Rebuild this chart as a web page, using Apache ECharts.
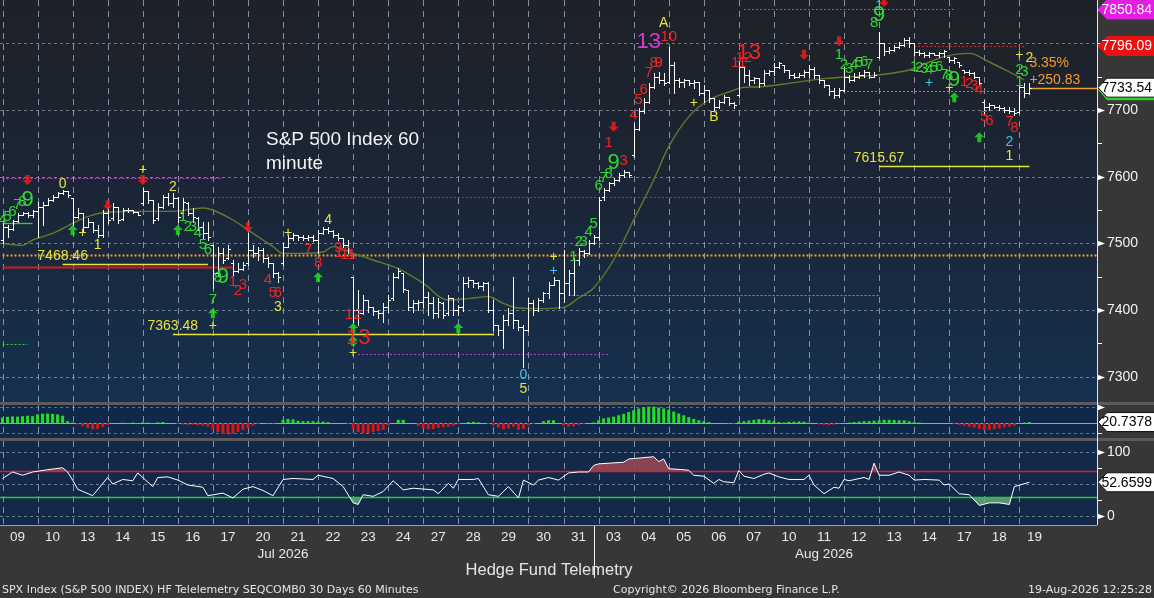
<!DOCTYPE html>
<html><head><meta charset="utf-8">
<script src="https://cdn.jsdelivr.net/npm/echarts@6/dist/echarts.min.js"></script>
<style>html,body{margin:0;padding:0;background:#363636;}#c{width:1154px;height:598px;}</style>
</head><body><div id="c"></div>
<script>
// ---------------- DATA ----------------
const dayLabels = ['09','10','13','14','15','16','17','20','21','22','23','24','27','28','29','30','31','03','04','05','06','07','10','11','12','13','14','17','18','19'];
const monthLabels = [['Jul 2026', 56], ['Aug 2026', 164]];
const BARS_PER_DAY = 7;
const SLOT_COUNT = 219;

// hourly bars [open, high, low, close], one row per session
const priceBarsByDay = [
[[7505,7530,7500,7525],[7525,7527,7510,7522],[7522,7535,7520,7533],[7533,7545,7532,7543],[7543,7547,7542,7545],[7545,7547,7540,7542],[7542,7550,7540,7548]],
[[7548,7562,7510,7555],[7555,7562,7528,7558],[7558,7568,7557,7565],[7565,7572,7564,7570],[7570,7577,7569,7575],[7575,7580,7574,7578],[7578,7578,7570,7572]],
[[7568,7568,7527,7540],[7540,7553,7538,7545],[7545,7545,7517,7525],[7525,7538,7524,7532],[7532,7532,7517,7520],[7520,7527,7510,7513],[7513,7550,7510,7545]],
[[7545,7555,7530,7535],[7538,7560,7535,7555],[7555,7555,7530,7535],[7537,7553,7535,7550],[7550,7553,7547,7550],[7550,7550,7545,7547],[7547,7547,7542,7543]],
[[7560,7583,7558,7578],[7578,7578,7560,7565],[7565,7565,7530,7535],[7538,7560,7535,7555],[7555,7572,7553,7570],[7570,7575,7557,7560],[7560,7575,7555,7568]],
[[7568,7570,7532,7540],[7545,7568,7540,7562],[7560,7562,7542,7545],[7545,7553,7532,7540],[7538,7540,7520,7525],[7525,7532,7508,7515],[7515,7532,7505,7510]],
[[7497,7497,7433,7455],[7455,7495,7453,7485],[7485,7493,7470,7475],[7478,7497,7476,7492],[7470,7475,7452,7458],[7458,7470,7457,7462],[7462,7472,7460,7468]],
[[7470,7515,7468,7490],[7490,7497,7480,7485],[7485,7495,7475,7490],[7490,7493,7472,7478],[7478,7480,7465,7470],[7470,7470,7450,7455],[7455,7457,7442,7450]],
[[7470,7500,7468,7495],[7495,7512,7494,7508],[7508,7515,7505,7512],[7512,7512,7505,7510],[7510,7512,7505,7508],[7508,7512,7505,7510],[7510,7512,7503,7505]],
[[7505,7520,7485,7515],[7515,7525,7514,7522],[7522,7525,7515,7518],[7518,7520,7510,7512],[7512,7515,7505,7508],[7508,7508,7495,7498],[7498,7505,7485,7490]],
[[7450,7450,7382,7400],[7400,7430,7377,7395],[7395,7422,7394,7415],[7415,7415,7397,7405],[7405,7405,7392,7398],[7398,7400,7388,7395],[7395,7410,7382,7405]],
[[7405,7422,7397,7415],[7418,7455,7415,7450],[7450,7463,7448,7458],[7455,7455,7427,7432],[7430,7430,7400,7405],[7405,7415,7397,7410],[7410,7415,7400,7412]],
[[7412,7482,7405,7420],[7420,7427,7392,7410],[7410,7420,7388,7395],[7395,7418,7390,7412],[7410,7412,7388,7392],[7395,7422,7392,7418],[7418,7418,7392,7400]],
[[7400,7407,7392,7405],[7405,7450,7398,7440],[7440,7450,7435,7445],[7445,7445,7435,7440],[7440,7442,7433,7436],[7436,7442,7430,7440],[7440,7442,7397,7400]],
[[7400,7415,7370,7378],[7378,7378,7362,7370],[7370,7392,7343,7385],[7385,7403,7377,7395],[7395,7450,7373,7385],[7385,7385,7370,7375],[7375,7377,7315,7370]],
[[7370,7418,7368,7410],[7410,7415,7392,7400],[7400,7418,7398,7415],[7415,7427,7412,7425],[7425,7442,7418,7438],[7438,7450,7437,7445],[7445,7445,7403,7425]],
[[7425,7490,7412,7440],[7440,7460,7422,7455],[7455,7478,7422,7475],[7475,7493,7467,7488],[7488,7490,7480,7485],[7485,7505,7484,7500],[7500,7512,7499,7510]],
[[7510,7570,7505,7565],[7570,7583,7565,7580],[7580,7592,7578,7590],[7590,7598,7588,7595],[7595,7605,7593,7602],[7602,7610,7600,7607],[7607,7607,7600,7602]],
[[7632,7680,7630,7672],[7672,7703,7670,7698],[7698,7718,7696,7712],[7712,7740,7710,7735],[7735,7755,7733,7750],[7750,7757,7740,7745],[7745,7755,7737,7740]],
[[7742,7795,7740,7768],[7768,7772,7725,7745],[7745,7748,7735,7742],[7742,7747,7735,7745],[7745,7745,7737,7740],[7740,7745,7733,7742],[7742,7742,7722,7725]],
[[7725,7737,7712,7730],[7730,7730,7712,7718],[7718,7718,7700,7705],[7705,7715,7703,7712],[7712,7722,7710,7720],[7720,7720,7708,7710],[7710,7712,7703,7708]],
[[7722,7772,7720,7765],[7765,7765,7742,7752],[7752,7760,7737,7745],[7745,7750,7740,7748],[7748,7748,7735,7740],[7740,7760,7738,7755],[7755,7760,7752,7758]],
[[7758,7770,7752,7765],[7765,7772,7763,7770],[7768,7768,7757,7760],[7760,7760,7748,7752],[7752,7755,7748,7750],[7750,7755,7749,7753],[7753,7760,7750,7757]],
[[7757,7767,7750,7762],[7762,7765,7748,7752],[7752,7752,7740,7745],[7745,7745,7735,7738],[7738,7738,7722,7728],[7728,7733,7718,7722],[7722,7733,7720,7730]],
[[7730,7765,7728,7750],[7750,7752,7742,7745],[7745,7755,7743,7750],[7750,7757,7748,7752],[7752,7760,7750,7757],[7757,7757,7748,7750],[7750,7757,7749,7752]],
[[7780,7817,7778,7800],[7800,7800,7782,7788],[7788,7795,7785,7790],[7790,7797,7788,7795],[7795,7802,7793,7798],[7798,7808,7796,7805],[7805,7810,7795,7800]],
[[7800,7800,7782,7787],[7787,7790,7782,7785],[7785,7787,7780,7783],[7783,7787,7780,7785],[7785,7785,7782,7783],[7783,7787,7780,7786],[7786,7790,7780,7788]],
[[7780,7780,7772,7775],[7775,7780,7770,7778],[7772,7772,7765,7767],[7760,7760,7755,7757],[7757,7760,7752,7755],[7755,7757,7748,7750],[7750,7750,7737,7740]],
[[7712,7715,7695,7705],[7705,7710,7700,7708],[7708,7708,7703,7705],[7705,7707,7700,7703],[7703,7705,7697,7700],[7700,7705,7695,7698],[7698,7703,7692,7695]],
[[7697,7742,7695,7735],[7735,7740,7720,7725],[7725,7740,7724,7733.54]]
];

// moving average (bar index, value)
const movingAvg = [[0,7500],[4,7497],[6,7505],[10,7515],[14,7530],[17,7540],[21,7547],[28,7548],[34,7548],[40,7553],[42,7550],[46,7535],[50,7515],[54,7495],[56,7485],[60,7485],[64,7487],[66,7495],[70,7485],[74,7475],[79,7462],[84,7440],[89,7415],[93,7417],[97,7420],[100,7410],[103,7403],[107,7402],[112,7404],[115,7418],[118,7433],[122,7475],[126,7535],[130,7595],[133,7645],[137,7690],[141,7715],[145,7727],[148,7734],[152,7735],[157,7740],[164,7747],[170,7750],[174,7752],[181,7760],[188,7780],[193,7785],[197,7772],[201,7757],[204,7745]];

// histogram panel, one value per bar
const histByDay = [
[120,135,145,140,150,160,150],[190,205,210,200,190,160,40],[10,-30,-70,-110,-140,-130,-90],[-40,0,0,5,0,10,0],
[15,10,0,15,20,0,0],[-20,-30,-40,-40,-50,-60,-80],[-150,-200,-240,-250,-240,-200,-150],[-120,-60,-20,0,-10,-10,0],
[70,90,80,50,40,40,40],[30,30,20,0,0,0,-20],[-150,-200,-220,-220,-200,-180,-150],[-60,0,70,70,0,0,-60],
[-120,-140,-130,-110,-90,-80,-60],[-30,0,20,25,15,0,-20],[-60,-100,-140,-120,-80,-150,-130],[-60,-20,0,40,60,60,0],
[-60,-80,-70,-40,-20,0,10],[60,100,120,140,170,200,240],[280,320,350,360,360,340,320],[290,250,210,170,130,90,60],
[40,20,0,0,0,-10,-15],[30,40,55,70,85,80,60],[40,20,10,25,30,35,30],[10,0,-30,-40,-45,-35,-10],
[0,10,20,30,40,40,50],[60,70,70,65,60,60,40],[20,10,0,0,0,0,0],[0,-20,-40,-60,-80,-100,-130],
[-160,-150,-140,-120,-100,-80,-60],[0,10,20.7378]
];

// oscillator (bar index, value)
const oscillator = [[0,58.5],[2,68.5],[4,63.5],[6,68.5],[9,72],[12,75],[13,68.5],[14,56],[15,42],[18,32],[21,60],[22,50],[24,57],[26,55],[27,67],[30,46],[31,60],[33,61],[35,56],[37,48.5],[40,45],[41,32],[44,36],[46,28.5],[48,42],[50,46],[52,40],[54,32],[56,57],[58,58.5],[62,57],[63,63.5],[66,58.5],[68,46],[70,21],[71,18.5],[72,33.5],[74,31],[76,38.5],[78,55],[80,41],[82,43.5],[86,41],[87,35],[89,51],[90,43.5],[91,57],[94,57],[95,58.5],[97,33.5],[99,31],[101,46],[103,28.5],[104,56],[106,48.5],[107,56],[109,60],[111,56],[113,67],[115,68.5],[117,68.5],[118,78.5],[119,81],[124,83.5],[125,88.5],[130,92],[131,84.5],[132,88.5],[133,73.5],[136,72],[137,71],[138,63.5],[140,62],[142,51],[143,57],[144,53.5],[146,52],[147,71],[148,62],[150,58.5],[152,65],[153,67],[155,61],[157,57],[160,57],[161,63.5],[162,48.5],[164,35],[166,45],[167,43.5],[168,57],[169,55],[172,60],[173,57],[174,82],[175,63.5],[177,63.5],[179,68.5],[181,63.5],[182,56],[184,57],[187,56],[188,48.5],[189,50],[191,35],[193,33.5],[195,17],[197,21],[199,21],[201,18.5],[202,46],[205,52.6599]];

// level lines [fromBar, toBar, value]
const purpleDotted = [[0,44,7598],[71,121,7334],[148,190,7851]];
const redDotted = [[35,190,7570],[182,204,7796]];
const orangeDotted = [[0,218,7482.5]];
const redSolid = [[0,46,7465]];
const yellowSolid = [[12,41,7468.46],[34,98,7363.48],[175,205,7615.67]];
const greenSolid = [[0,6,7530]];
const greenDotted = [[0,5,7349],[113,175,7422],[167,204,7729]];
const lastPriceLine = [[205,218,7733.54]];

// sequential counts and markers [bar, price, text]
const greenCounts = [[0,7535,'4'],[1,7540,'5'],[2,7547,'6'],[3,7557,'7'],[4,7562,'8'],
 [36,7540,'1'],[37,7525,'2'],[38,7525,'3'],[39,7515,'4'],[40,7497,'5'],[41,7490,'6'],[42,7415,'7'],[43,7448,'8'],
 [114,7480,'1'],[115,7502,'2'],[116,7502,'3'],[117,7517,'4'],[118,7529,'5'],[119,7586,'6'],[120,7598,'7'],[121,7604,'8'],
 [167,7782,'1'],[168,7767,'2'],[169,7762,'3'],[170,7767,'4'],[171,7770,'5'],[172,7772,'6'],[173,7767,'7'],[174,7830,'8'],
 [182,7764,'1'],[183,7763,'2'],[184,7761,'3'],[185,7760,'4'],[186,7763,'5'],[187,7764,'6'],[188,7752,'7'],[189,7751,'8'],
 [203,7742,'1'],[203,7760,'2'],[204,7757,'3']];
const greenNines = [[5,7565,'9'],[44,7450,'9'],[122,7620,'9'],[175,7843,'9'],[190,7745,'9']];
const redCounts = [[46,7442,'1'],[47,7428,'2'],[48,7437,'3'],[53,7445,'4'],[54,7425,'5'],[55,7425,'6'],[61,7490,'7'],[63,7470,'8'],
 [67,7493,'9'],[68,7485,'10'],[69,7482,'11'],[70,7392,'12'],[121,7650,'1'],[124,7623,'3'],[126,7692,'4'],[127,7715,'5'],
 [128,7730,'6'],[129,7755,'7'],[130,7770,'8'],[131,7770,'9'],[133,7809,'10'],[147,7770,'11'],[148,7778,'12'],
 [192,7742,'1'],[193,7739,'2'],[194,7736,'3'],[195,7730,'4'],[196,7689,'5'],[197,7684,'6'],[201,7682,'7'],[202,7673,'8']];
const redThirteens = [[71,7358,'13'],[149,7786,'13']];
const magentaThirteens = [[129,7802,'13']];
const yellowMarks = [[12,7589,'0'],[16,7515,'+'],[19,7497,'1'],[28,7610,'+'],[34,7585,'2'],[55,7404,'3'],[57,7515,'+'],
 [65,7535,'4'],[70,7335,'+'],[42,7376,'+'],[104,7281,'5'],[110,7480,'+'],[132,7830,'A'],[138,7710,'+'],[142,7689,'B'],
 [189,7733,'+'],[201,7631,'1'],[203,7782,'+'],[205,7778,'2']];
const cyanMarks = [[104,7302,'0'],[110,7458,'+'],[175,7856,'1'],[185,7740,'+'],[201,7652,'2']];
const changeLabels = [[205,7770,'3.35%'],[205,7745,'+250.83']];
const levelLabels = [[12,7468.46],[34,7363.48],[175,7615.67]];
const sellArrows = [[5,7595],[21,7557],[28,7595],[49,7524],[122,7675],[160,7783],[167,7803],[176,7862]];
const buyArrows = [[14,7520],[35,7520],[42,7395],[63,7449],[70,7373],[70,7354],[91,7373],[190,7719],[195,7659]];

// axis ticks and value tags
const priceAxisLabels = [7300,7400,7500,7600,7700];
const priceAxisMinor = [7350,7450,7550,7650,7750,7800,7850];
const priceGridValues = [7300,7400,7500,7600,7700,7800];
const priceTags = [[7850.84,'hi'],[7796.09,'res'],[7733.54,'last']];
const histTag = 20.7378;
const oscTag = 52.6599;
const oscAxisLabels = [100, 0];
const oscAxisMinor = [75, 25];
const oscGridValues = [0, 50, 100];
const oscUpper = 70, oscLower = 30;

// ---------------- BUILD ----------------
const priceBars = priceBarsByDay.flat();
const histValues = histByDay.flat();
const categories = Array.from({length: SLOT_COUNT}, (_, i) => String(i));
const dayStarts = dayLabels.map((_, d) => d * BARS_PER_DAY);

const FN = '"Liberation Sans", Arial, sans-serif';
const FTD = '"Liberation Sans Narrow", "Liberation Sans", sans-serif';
const C = {green:'#33d633', red:'#f02424', yellow:'#e6e23e', cyan:'#3ec6e4', magenta:'#d53ad5', orange:'#f09a2a', white:'#ffffff'};

function dayLines(ax) {
  return {type:'custom', xAxisIndex:ax, yAxisIndex:ax, z:1, silent:true,
    data: dayStarts.map(i => [i, 0]), encode:{x:0, y:1},
    renderItem: (p, api) => {
      const cs = p.coordSys;
      const x = Math.round(api.coord([api.value(0), 0])[0]) + 0.5;
      return {type:'line', shape:{x1:x, y1:cs.y, x2:x, y2:cs.y + cs.height},
        style:{stroke:'rgba(160,172,192,0.8)', lineWidth:1, lineDash:[6,5]}};
    }};
}
function fullLines(ax, values, stroke, dash, width, z) {
  return {type:'custom', xAxisIndex:ax, yAxisIndex:ax, z: z || 1, silent:true,
    data: values.map(v => [0, v]), encode:{x:0, y:1},
    renderItem: (p, api) => {
      const cs = p.coordSys;
      const y = Math.round(api.coord([0, api.value(1)])[1]) + 0.5;
      return {type:'line', shape:{x1:cs.x, y1:y, x2:cs.x + cs.width, y2:y},
        style:{stroke, lineWidth: width || 1, lineDash: dash}};
    }};
}
function levelLines(items, stroke, dash, width) {
  return {type:'custom', xAxisIndex:0, yAxisIndex:0, z:3, silent:true,
    data: items.map(d => [d[0], d[2]]), encode:{x:0, y:1},
    renderItem: (p, api) => {
      const cs = p.coordSys, d = items[p.dataIndex];
      const a = api.coord([d[0], d[2]]);
      let x2 = api.coord([d[1], d[2]])[0];
      if (d[1] >= SLOT_COUNT - 1) x2 = cs.x + cs.width;
      const y = Math.round(a[1]) + 0.5;
      return {type:'line', shape:{x1:a[0], y1:y, x2, y2:y}, style:{stroke, lineWidth: width, lineDash: dash}};
    }};
}
function textLayer(items, color, size, align, vAlign, dy, family) {
  return {type:'custom', xAxisIndex:0, yAxisIndex:0, z:8, silent:true,
    data: items.map(d => [d[0], d[1]]), encode:{x:0, y:1},
    renderItem: (p, api) => {
      const d = items[p.dataIndex];
      const pt = api.coord([d[0], d[1]]);
      const txt = d.length > 2 ? d[2] : d[1].toFixed(2);
      return {type:'text', x: pt[0], y: pt[1] + (dy || 0),
        style:{text: txt, fill: color, fontSize: size, fontFamily: family || FTD,
          align: align || 'center', verticalAlign: vAlign || 'middle'}};
    }};
}
function axisMarks(ax, labelled, minor) {
  const items = labelled.map(v => [v, 1]).concat(minor.map(v => [v, 0]));
  return {type:'custom', xAxisIndex:ax, yAxisIndex:ax, z:9, silent:true,
    data: items.map(d => [0, d[0]]), encode:{x:0, y:1},
    renderItem: (p, api) => {
      const cs = p.coordSys, d = items[p.dataIndex];
      const x0 = cs.x + cs.width;
      const y = Math.round(api.coord([0, d[0]])[1]) + 0.5;
      if (!d[1]) return {type:'line', shape:{x1:x0, y1:y, x2:x0 + 5, y2:y}, style:{stroke:'#ffffff', lineWidth:1}};
      return {type:'group', children:[
        {type:'polygon', shape:{points:[[x0, y - 3], [x0 + 8, y], [x0, y + 3]]}, style:{fill:'#ffffff'}},
        {type:'text', x: x0 + 10, y: y, style:{text: String(d[0]), fill:'#f2f2f2', fontSize:14, fontFamily:FN, align:'left', verticalAlign:'middle'}}
      ]};
    }};
}
const TAG_STYLE = {
  hi:   {fill:'#e21fe2', stroke:'#e21fe2', text:'#ffffff'},
  res:  {fill:'#ee1010', stroke:'#ee1010', text:'#ffffff'},
  last: {fill:'#ffffff', stroke:'#111111', text:'#000000', under:'#33cc33'},
  plain:{fill:'#ffffff', stroke:'#111111', text:'#000000'}
};
function tagLayer(ax, items, digits) {
  return {type:'custom', xAxisIndex:ax, yAxisIndex:ax, z:10, silent:true,
    data: items.map(d => [0, d[0]]), encode:{x:0, y:1},
    renderItem: (p, api) => {
      const cs = p.coordSys, d = items[p.dataIndex];
      const st = TAG_STYLE[d[1]];
      const x0 = cs.x + cs.width + 1;
      const y = api.coord([0, d[0]])[1];
      const h = 9.5, w = 60;
      const kids = [];
      if (st.under) kids.push({type:'polygon', shape:{points:[[x0, y + 2], [x0 + 9, y - h + 2], [x0 + w, y - h + 2], [x0 + w, y + h + 3], [x0 + 9, y + h + 3]]}, style:{fill: st.under}});
      kids.push({type:'polygon', shape:{points:[[x0, y], [x0 + 9, y - h], [x0 + w, y - h], [x0 + w, y + h], [x0 + 9, y + h]]}, style:{fill: st.fill, stroke: st.stroke, lineWidth:1}});
      kids.push({type:'text', x: x0 + 54, y: y + 0.5, style:{text: d[0].toFixed(digits), fill: st.text, fontSize:14, fontFamily:FN, align:'right', verticalAlign:'middle'}});
      return {type:'group', children: kids};
    }};
}
function renderOHLC(p, api) {
  const i = api.value(0);
  const o = api.value(1), h = api.value(2), l = api.value(3), c = api.value(4);
  const x = Math.round(api.coord([i, o])[0]) + 0.5;
  const yo = Math.round(api.coord([i, o])[1]) + 0.5;
  const yc = Math.round(api.coord([i, c])[1]) + 0.5;
  const yh = Math.round(api.coord([i, h])[1]);
  const yl = Math.round(api.coord([i, l])[1]) + 1;
  const s = {stroke:'#ffffff', lineWidth:1};
  return {type:'group', children:[
    {type:'line', shape:{x1:x, y1:yh, x2:x, y2:yl}, style:s},
    {type:'line', shape:{x1:x - 2.5, y1:yo, x2:x, y2:yo}, style:s},
    {type:'line', shape:{x1:x, y1:yc, x2:x + 2.5, y2:yc}, style:s}
  ]};
}

const grids = [
  {left:0, top:0, width:1097, height:402, show:true, borderWidth:0,
   backgroundColor: new echarts.graphic.LinearGradient(0, 0, 0, 1, [{offset:0, color:'#1e2127'}, {offset:0.45, color:'#1b2535'}, {offset:1, color:'#15304f'}])},
  {left:0, top:405, width:1097, height:33, show:true, borderWidth:0, backgroundColor:'#10294a'},
  {left:0, top:441, width:1097, height:84, show:true, borderWidth:0, backgroundColor:'#12294a'}
];
const hiddenX = (g) => ({type:'category', gridIndex:g, data:categories, boundaryGap:true, show:false});
const xAxes = [hiddenX(0), hiddenX(1),
  {type:'category', gridIndex:2, data:categories, boundaryGap:true,
   axisLine:{show:false}, axisTick:{show:false}, splitLine:{show:false},
   axisLabel:{interval:(i) => i % BARS_PER_DAY === 3 && i < dayLabels.length * BARS_PER_DAY,
     formatter:(v, i) => dayLabels[Math.floor(Number(v) / BARS_PER_DAY)] || '',
     color:'#e8e8e8', fontSize:13.5, fontFamily:FN, margin:5}},
  {type:'category', gridIndex:2, data:categories, boundaryGap:true, position:'bottom', offset:17,
   axisLine:{show:false}, axisTick:{show:false}, splitLine:{show:false},
   axisLabel:{interval:(i) => monthLabels.some(m => m[1] === i),
     formatter:(v) => { const m = monthLabels.find(mm => mm[1] === Number(v)); return m ? m[0] : ''; },
     color:'#e8e8e8', fontSize:13.5, fontFamily:FN, margin:5}}
];
const yAxes = [
  {type:'value', gridIndex:0, min:7262, max:7865, show:false},
  {type:'value', gridIndex:1, min:-330, max:396, show:false},
  {type:'value', gridIndex:2, min:-13.1, max:116.2, show:false}
];

const series = [];
series.push(dayLines(0), dayLines(1), dayLines(2));
series.push(fullLines(0, priceGridValues, 'rgba(150,160,180,0.7)', [3,3], 1));
series.push(fullLines(1, [350, -220], 'rgba(150,160,180,0.6)', [3,3], 1));
series.push(fullLines(1, [0], '#9aa3b5', null, 1, 2));
series.push(fullLines(2, oscGridValues, 'rgba(150,160,180,0.7)', [3,3], 1));
const oscAreaIndex = series.length;
series.push({type:'line', xAxisIndex:2, yAxisIndex:2, data:oscillator, symbol:'none', z:2, silent:true,
  lineStyle:{width:0}, areaStyle:{origin:50, opacity:1}});
series.push(fullLines(2, [oscUpper], '#e01c28', null, 1.5, 3));
series.push(fullLines(2, [oscLower], '#1fd02c', null, 1.5, 3));
series.push({type:'line', xAxisIndex:2, yAxisIndex:2, data:oscillator, symbol:'none', z:4, silent:true,
  lineStyle:{color:'#ffffff', width:1}});
series.push({type:'bar', xAxisIndex:1, yAxisIndex:1, data:histValues, barWidth:3, z:3, silent:true,
  itemStyle:{color:(p) => p.value >= 0 ? '#22dd22' : '#dd1515'}});
series.push(levelLines(purpleDotted, '#c23ec2', [2,2], 1));
series.push(levelLines(redDotted, '#d42525', [2,2], 1));
series.push(levelLines(orangeDotted, '#f2a02c', [2,2], 2));
series.push(levelLines(redSolid, '#d01c1c', null, 2));
series.push(levelLines(yellowSolid, '#e6e23e', null, 1.3));
series.push(levelLines(greenSolid, '#2ed02e', null, 1.3));
series.push(levelLines(greenDotted, '#2ed02e', [2,2], 1));
series.push(levelLines(lastPriceLine, '#f09a2a', null, 1.3));
series.push({type:'line', xAxisIndex:0, yAxisIndex:0, data:movingAvg, symbol:'none', smooth:0.35, z:4, silent:true,
  lineStyle:{color:'#66792a', width:1.4}});
series.push({type:'custom', xAxisIndex:0, yAxisIndex:0, z:5, silent:true,
  data: priceBars.map((b, i) => [i, b[0], b[1], b[2], b[3]]), encode:{x:0, y:[1,2,3,4]}, renderItem: renderOHLC});
series.push({type:'scatter', xAxisIndex:0, yAxisIndex:0, data:sellArrows, z:7, silent:true,
  symbol:'path://M3,0L7,0L7,5L10,5L5,10L0,5L3,5Z', symbolSize:[10,10], itemStyle:{color:'#ff1c1c'}});
series.push({type:'scatter', xAxisIndex:0, yAxisIndex:0, data:buyArrows, z:7, silent:true,
  symbol:'path://M5,0L10,5L7,5L7,10L3,10L3,5L0,5Z', symbolSize:[10,10], itemStyle:{color:'#1ee81e'}});
series.push(textLayer(greenCounts, C.green, 15));
series.push(textLayer(greenNines, C.green, 22));
series.push(textLayer(redCounts, C.red, 15));
series.push(textLayer(redThirteens, C.red, 22));
series.push(textLayer(magentaThirteens, C.magenta, 22));
series.push(textLayer(yellowMarks, C.yellow, 14));
series.push(textLayer(cyanMarks, C.cyan, 14));
series.push(textLayer(levelLabels, C.yellow, 14, 'center', 'bottom', -1, FN));
series.push(textLayer(changeLabels, C.orange, 14, 'left', 'middle', 0, FN));
series.push(axisMarks(0, priceAxisLabels, priceAxisMinor));
series.push(axisMarks(2, oscAxisLabels, oscAxisMinor));
series.push(axisMarks(1, [], [-220]));
series.push({type:'custom', xAxisIndex:1, yAxisIndex:1, z:9, silent:true, data:[[0, 350]], encode:{x:0, y:1},
  renderItem:(p, api) => { const cs = p.coordSys; const x0 = cs.x + cs.width; const y = Math.round(api.coord([0, 350])[1]) + 0.5;
    return {type:'polygon', shape:{points:[[x0, y - 3], [x0 + 8, y], [x0, y + 3]]}, style:{fill:'#ffffff'}}; }});
series.push(tagLayer(0, priceTags, 2));
series.push(tagLayer(1, [[histTag, 'plain']], 4));
series.push(tagLayer(2, [[oscTag, 'plain']], 4));

const chart = echarts.init(document.getElementById('c'), null, {width:1154, height:598});
chart.setOption({
  animation:false,
  backgroundColor:'#373737',
  textStyle:{fontFamily:FN},
  grid: grids, xAxis: xAxes, yAxis: yAxes,
  visualMap:{type:'piecewise', show:false, seriesIndex:oscAreaIndex, dimension:1,
    pieces:[{lt:oscLower, color:'rgba(110,175,125,0.8)'}, {gte:oscLower, lte:oscUpper, color:'rgba(0,0,0,0)'}, {gt:oscUpper, color:'rgba(150,70,85,0.9)'}]},
  graphic:[
    {type:'rect', shape:{x:0, y:402, width:1154, height:3}, style:{fill:'#5b5b5b'}, z:50},
    {type:'rect', shape:{x:0, y:438, width:1154, height:3}, style:{fill:'#5b5b5b'}, z:50},
    {type:'line', shape:{x1:1097.5, y1:0, x2:1097.5, y2:525}, style:{stroke:'#e8e8e8', lineWidth:1}, z:50},
    {type:'line', shape:{x1:0, y1:525.5, x2:1097, y2:525.5}, style:{stroke:'#9aa0aa', lineWidth:1}, z:50},
    {type:'line', shape:{x1:594.5, y1:526, x2:594.5, y2:578}, style:{stroke:'#f0f0f0', lineWidth:1}, z:50},
    {type:'text', x:266, y:128, style:{text:'S&P 500 Index 60\nminute', fill:'#f4f4f4', fontSize:19, fontFamily:FN, lineHeight:24}, z:50},
    {type:'text', x:549, y:570, style:{text:'Hedge Fund Telemetry', fill:'#e4e4e4', fontSize:16.5, fontFamily:FN, align:'center', verticalAlign:'middle'}, z:50},
    {type:'text', x:2, y:590, style:{text:'SPX Index (S&P 500 INDEX) HF Telelemetry SEQCOMB0 30 Days 60 Minutes', fill:'#e4e4e4', fontSize:11, fontFamily:'"DejaVu Sans", sans-serif', verticalAlign:'middle'}, z:50},
    {type:'text', x:613, y:590, style:{text:'Copyright\u00a9 2026 Bloomberg Finance L.P.', fill:'#e4e4e4', fontSize:11, fontFamily:'"DejaVu Sans", sans-serif', verticalAlign:'middle'}, z:50},
    {type:'text', x:1152, y:590, style:{text:'19-Aug-2026 12:25:28', fill:'#e4e4e4', fontSize:11, fontFamily:'"DejaVu Sans", sans-serif', align:'right', verticalAlign:'middle'}, z:50}
  ],
  series: series
});
</script>
</body></html>
